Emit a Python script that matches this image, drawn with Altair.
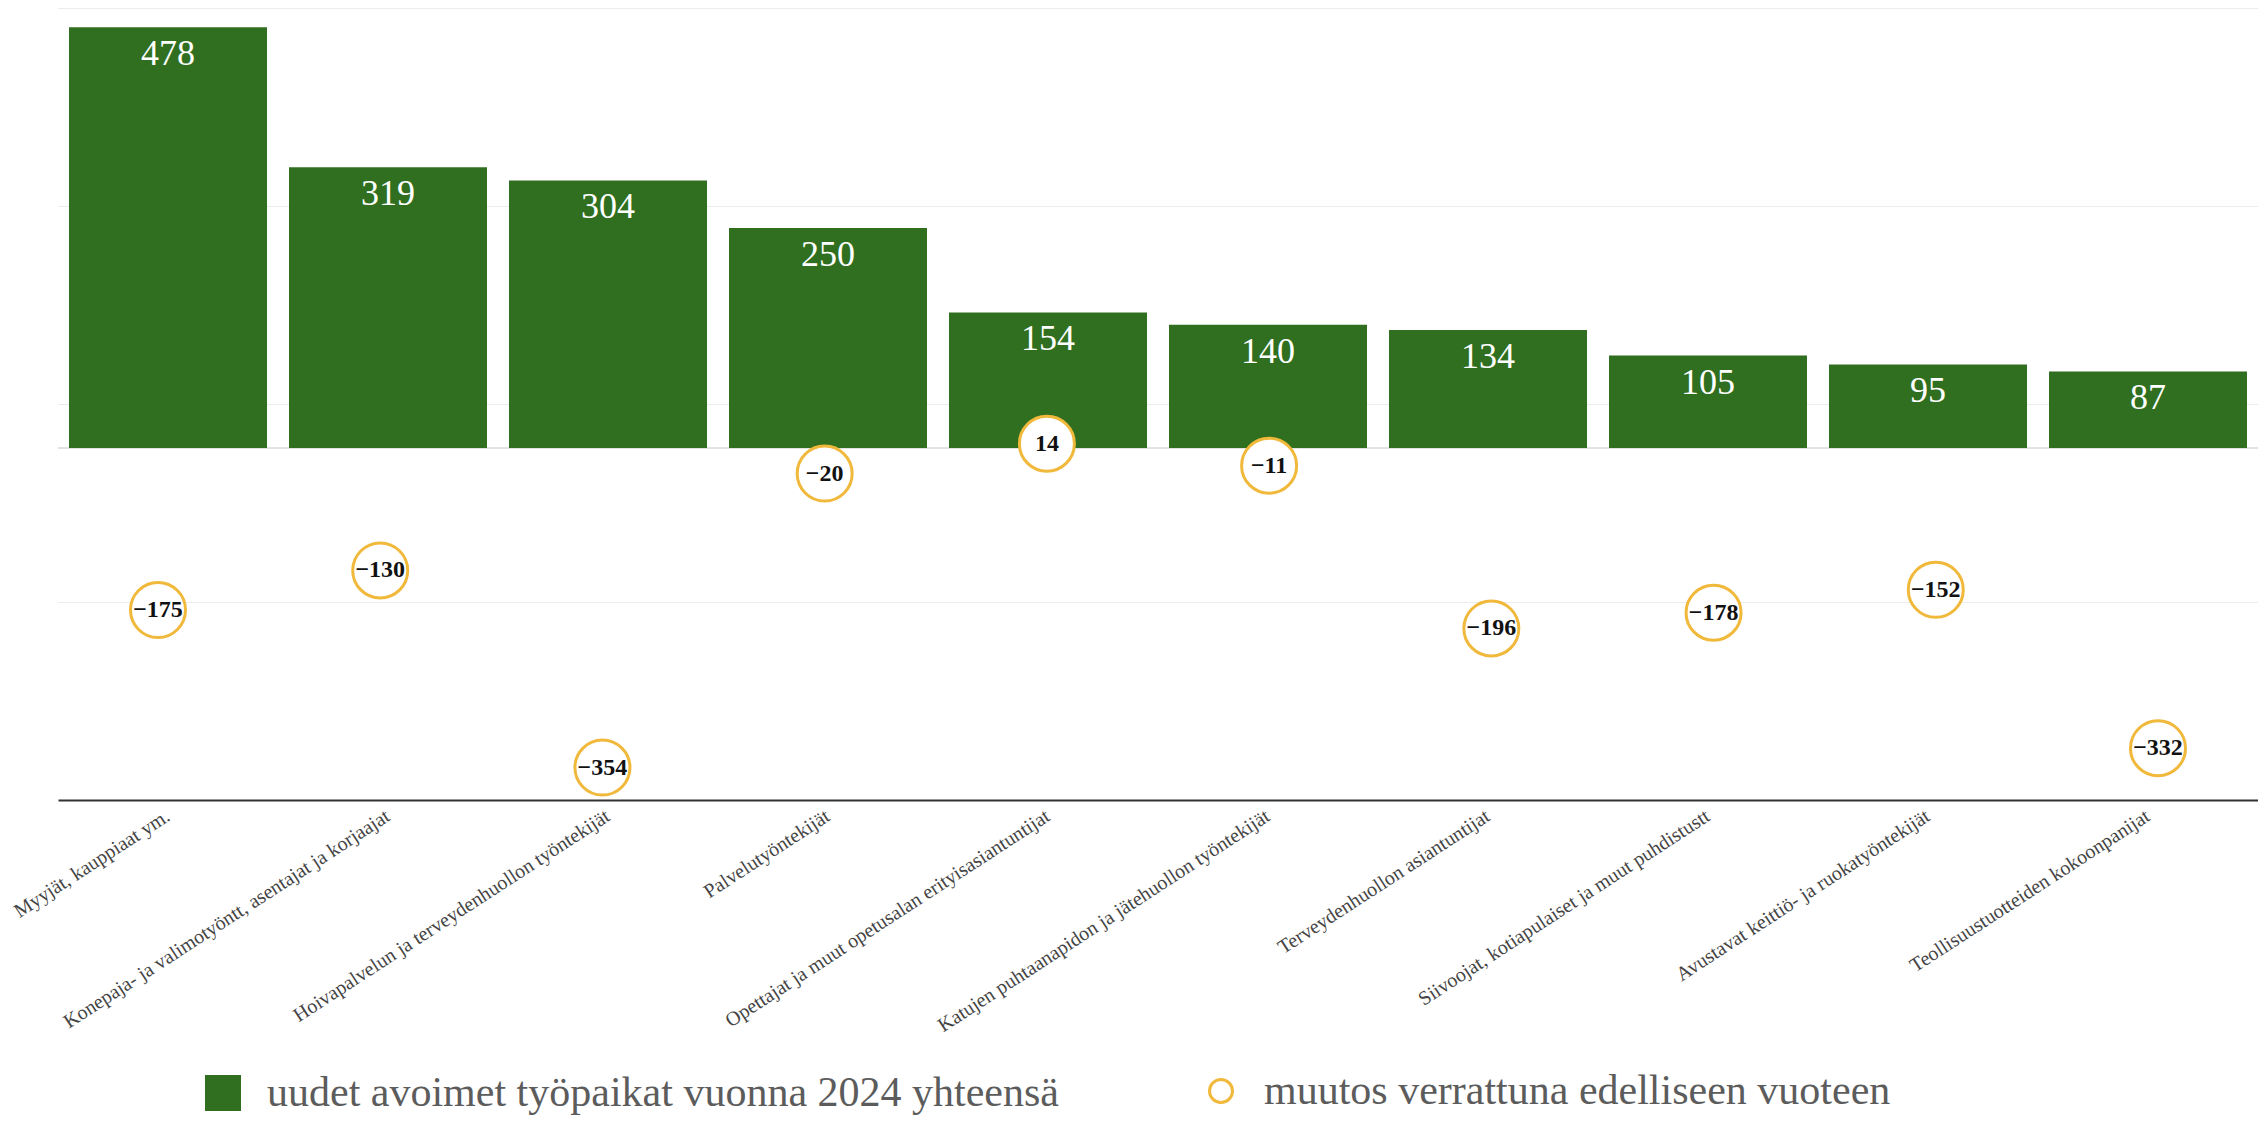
import altair as alt
import pandas as pd

categories = [
    "Myyjät, kauppiaat ym.",
    "Konepaja- ja valimotyöntt, asentajat ja korjaajat",
    "Hoivapalvelun ja terveydenhuollon työntekijät",
    "Palvelutyöntekijät",
    "Opettajat ja muut opetusalan erityisasiantuntijat",
    "Katujen puhtaanapidon ja jätehuollon työntekijät",
    "Terveydenhuollon asiantuntijat",
    "Siivoojat, kotiapulaiset ja muut puhdistustt",
    "Avustavat keittiö- ja ruokatyöntekijät",
    "Teollisuustuotteiden kokoonpanijat",
]
new_jobs = [478, 319, 304, 250, 154, 140, 134, 105, 95, 87]
change = [-175, -130, -354, -20, 14, -11, -196, -178, -152, -332]
bar_series = "uudet avoimet työpaikat vuonna 2024 yhteensä"
point_series = "muutos verrattuna edelliseen vuoteen"
y_ticks = [-400, -175, 50, 275, 500]

GREEN = "#306F1F"
GOLD = "#F1B93B"

df = pd.DataFrame({
    "cat": categories,
    "jobs": new_jobs,
    "change": change,
    "s1": [bar_series] * len(categories),
    "s2": [point_series] * len(categories),
})

x_bar = alt.X(
    "cat:N", sort=categories,
    scale=alt.Scale(type="band", paddingInner=0.1, paddingOuter=0.05),
    axis=alt.Axis(title=None, labelAngle=-33, labelAlign="right", labelBaseline="middle",
                  labelFont="Liberation Serif", labelFontSize=20,
                  labelColor="#444", labelPadding=14, ticks=False, domainColor="#333",
                  domainWidth=2, labelLimit=0, grid=False),
)
x_bar_noaxis = alt.X("cat:N", sort=categories,
                     scale=alt.Scale(type="band", paddingInner=0.1, paddingOuter=0.05),
                     axis=None)
x_pt = alt.X("cat:N", sort=categories, scale=alt.Scale(type="point", padding=0.45), axis=None)

y_scale = alt.Scale(domain=[-400, 500], nice=False, zero=False)
y_axis = alt.Axis(title=None, values=y_ticks, labels=False, ticks=False, domain=False,
                  grid=True, gridColor="#ececec", gridWidth=1)

base = alt.Chart(df)

zero_rule = base.mark_rule(color="#e2e2e2", strokeWidth=1).encode(
    y=alt.datum(0, scale=y_scale, axis=y_axis)
)

bars = base.mark_bar().encode(
    x=x_bar,
    y=alt.Y("jobs:Q", scale=y_scale, axis=y_axis),
    y2=alt.datum(0),
    fill=alt.Fill("s1:N", scale=alt.Scale(domain=[bar_series], range=[GREEN]),
                  legend=alt.Legend(title=None, orient="none", legendX=144, legendY=1064,
                                    symbolType="square", symbolSize=1296, symbolStrokeWidth=0,
                                    labelFont="Liberation Serif", labelFontSize=42,
                                    labelColor="#5c5c5c", labelOffset=23, labelLimit=0, padding=0)),
)

bar_text = base.mark_text(font="Liberation Serif", fontSize=36, color="white",
                          baseline="middle", dy=27).encode(
    x=x_bar_noaxis, y=alt.Y("jobs:Q"), text=alt.Text("jobs:Q")
)

points = base.mark_point(shape="circle", size=3025, fill="white", fillOpacity=1,
                         strokeWidth=3, opacity=1, yOffset=8).encode(
    x=x_pt,
    y=alt.Y("change:Q"),
    stroke=alt.Stroke("s2:N", scale=alt.Scale(domain=[point_series], range=[GOLD]),
                      legend=alt.Legend(title=None, orient="none", legendX=1142, legendY=1062,
                                        symbolType="circle", symbolSize=529, symbolStrokeWidth=3,
                                        symbolFillColor="white",
                                        labelFont="Liberation Serif", labelFontSize=42,
                                        labelColor="#5c5c5c", labelOffset=22, labelLimit=0, padding=0)),
)

point_text = base.mark_text(font="Liberation Serif", fontWeight="bold", fontSize=24,
                            color="#111", baseline="middle", yOffset=8).encode(
    x=x_pt, y=alt.Y("change:Q"), text=alt.Text("change:Q")
)

chart = alt.layer(zero_rule, bars, bar_text, points, point_text).resolve_scale(
    x="independent", fill="independent", stroke="independent"
).properties(
    width=2200, height=792, autosize="none",
    padding={"left": 50, "top": 0, "right": 0, "bottom": 316},
    background="white",
).configure_view(stroke=None)

chart.save("out.html", embed_options={"renderer": "svg", "actions": False})
